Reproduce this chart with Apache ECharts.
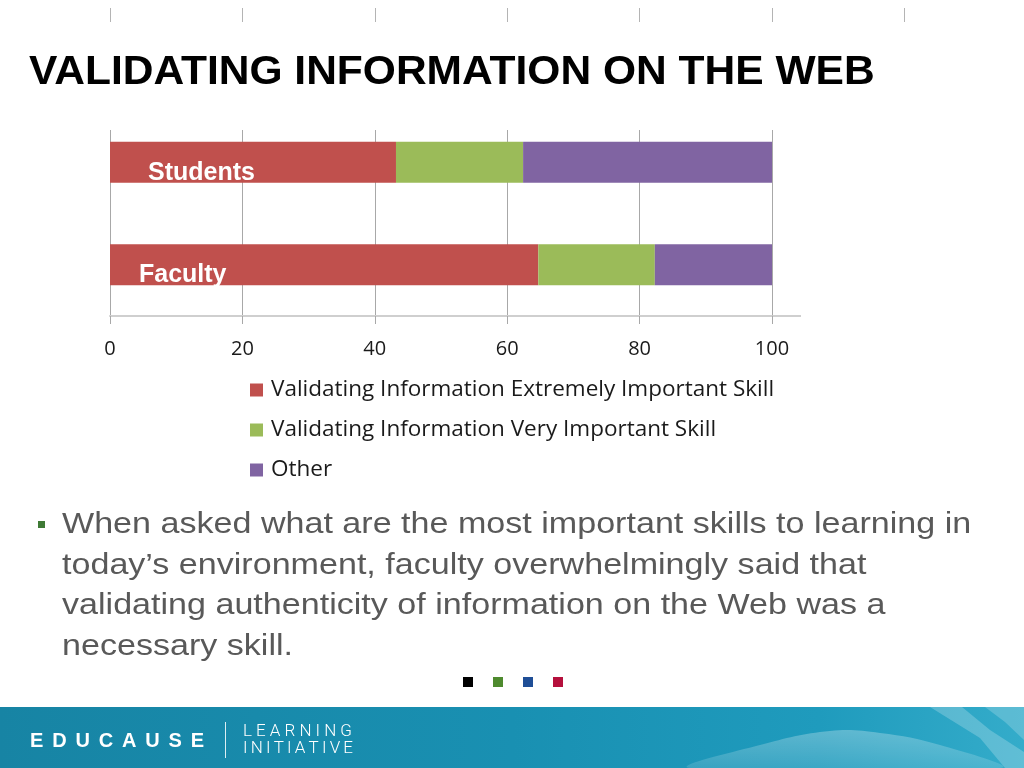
<!DOCTYPE html>
<html>
<head>
<meta charset="utf-8">
<script src="https://cdn.jsdelivr.net/npm/echarts@6/dist/echarts.min.js"></script>
<style>
html,body{margin:0;padding:0;background:#fff;}
#chart{width:1024px;height:768px;}
</style>
</head>
<body>
<div id="chart"></div>
<script>
// ---- data ----
const categories = ['Students', 'Faculty'];
const extremelyImportant = [43.2, 64.7];
const veryImportant = [19.2, 17.6];
const other = [37.6, 17.7];
const seriesNames = [
  'Validating Information Extremely Important Skill',
  'Validating Information Very Important Skill',
  'Other'
];
const xTicks = [0, 20, 40, 60, 80, 100];
const titleText = 'VALIDATING INFORMATION ON THE WEB';
const bulletLines = [
  'When asked what are the most important skills to learning in',
  'today\u2019s environment, faculty overwhelmingly said that',
  'validating authenticity of information on the Web was a',
  'necessary skill.'
];

// ---- styling ----
const colors = ['#c0504d', '#9bbb59', '#8064a2'];
const labelOffsets = [[33, 11], [24, 10]];
const ARIAL = '"Liberation Sans", Arial, sans-serif';
const CAL = '"Open Sans", Lato, sans-serif';
const chart = echarts.init(document.getElementById('chart'), null, {renderer: 'canvas'});

function spacedLetters(text, x0, totalWidth, y, font) {
  const c = document.createElement('canvas').getContext('2d');
  c.font = font.weight + ' ' + font.size + 'px ' + font.family;
  const widths = text.split('').map(ch => c.measureText(ch).width);
  const sum = widths.reduce((a, b) => a + b, 0);
  const gap = (totalWidth - sum) / (text.length - 1);
  let x = x0;
  const out = [];
  text.split('').forEach((ch, i) => {
    out.push({
      type: 'text', silent: true,
      style: {text: ch, x: x, y: y, fontSize: font.size, fontFamily: font.family,
        fontWeight: font.weight, fill: '#fff', verticalAlign: 'middle', align: 'left'}
    });
    x += widths[i] + gap;
  });
  return out;
}

const graphics = [];
// title
graphics.push({type: 'text', silent: true, x: 29, y: 73, scaleX: 1.063,
  style: {text: titleText, x: 0, y: 0, fontSize: 40, fontWeight: 'bold', fontFamily: ARIAL,
    fill: '#000', verticalAlign: 'middle', align: 'left'}});
// axis line extension
graphics.push({type: 'line', silent: true, shape: {x1: 772, y1: 316, x2: 801, y2: 316},
  style: {stroke: '#cfcfcf', lineWidth: 2}});
// bullet
graphics.push({type: 'rect', silent: true, shape: {x: 38, y: 521, width: 7, height: 7},
  style: {fill: '#3f7a35'}});
bulletLines.forEach((t, i) => {
  graphics.push({type: 'text', silent: true, x: 62, y: 525 + i * 40.6, scaleX: 1.136,
    style: {text: t, x: 0, y: 0, fontSize: 30, fontFamily: ARIAL, fill: '#595959',
      verticalAlign: 'middle', align: 'left'}});
});
// small colour squares
['#000000', '#4e8a2e', '#1f4e96', '#b5103c'].forEach((c, i) => {
  graphics.push({type: 'rect', silent: true, shape: {x: 463 + i * 30, y: 677, width: 10, height: 10},
    style: {fill: c}});
});
// footer band
graphics.push({type: 'rect', silent: true, shape: {x: 0, y: 707, width: 1024, height: 61},
  style: {fill: new echarts.graphic.LinearGradient(0, 0, 1, 0, [
    {offset: 0, color: '#1784a4'}, {offset: 0.5, color: '#1990b2'}, {offset: 0.8, color: '#1f9bbd'},
    {offset: 1, color: '#34acca'}])}});
graphics.push({type: 'polygon', silent: true,
  shape: {smooth: 0.4, points: [[690, 768], [760, 745], [830, 731], [880, 733], [940, 745], [1000, 768]]},
  style: {fill: new echarts.graphic.LinearGradient(0, 0, 0, 1, [
    {offset: 0, color: 'rgba(255,255,255,0.28)'}, {offset: 1, color: 'rgba(255,255,255,0.1)'}])}});
graphics.push({type: 'polygon', silent: true,
  shape: {points: [[930, 707], [962, 707], [990, 730], [1024, 752], [1024, 768], [1005, 768], [980, 738]]},
  style: {fill: 'rgba(255,255,255,0.22)'}});
graphics.push({type: 'polygon', silent: true,
  shape: {points: [[985, 707], [1024, 707], [1024, 740], [1005, 722]]},
  style: {fill: 'rgba(255,255,255,0.2)'}});
// logo
spacedLetters('EDUCAUSE', 30, 174, 741, {size: 20, weight: 'bold', family: ARIAL})
  .forEach(g => graphics.push(g));
graphics.push({type: 'line', silent: true, shape: {x1: 225.5, y1: 722, x2: 225.5, y2: 758},
  style: {stroke: 'rgba(255,255,255,0.85)', lineWidth: 1}});
spacedLetters('LEARNING', 243, 109, 732, {size: 17, weight: '300', family: 'Roboto, sans-serif'})
  .forEach(g => graphics.push(g));
spacedLetters('INITIATIVE', 243, 110, 749, {size: 17, weight: '300', family: 'Roboto, sans-serif'})
  .forEach(g => graphics.push(g));

const option = {
  animation: false,
  backgroundColor: '#ffffff',
  color: colors,
  legend: {
    orient: 'vertical', left: 250, top: 377, padding: 0,
    itemWidth: 13, itemHeight: 13, itemGap: 14, icon: 'rect',
    data: seriesNames,
    textStyle: {fontSize: 22.5, fontFamily: CAL, color: '#1a1a1a',
      lineHeight: 26, padding: [0, 0, 0, 3]}
  },
  grid: [
    {left: 110, right: 252, top: 111, height: 205},
    {left: 110, right: 252, top: 130, height: 186},
    {left: 110, width: 794.4, top: 8, height: 14}
  ],
  xAxis: [
    {gridIndex: 0, type: 'value', min: 0, max: 100, interval: 20,
      axisLine: {show: true, lineStyle: {color: '#cfcfcf', width: 2}},
      axisTick: {show: true, length: 8, lineStyle: {color: '#a8a8a8'}},
      splitLine: {show: false},
      axisLabel: {margin: 23, fontSize: 20, fontFamily: CAL, color: '#1a1a1a',
        formatter: v => xTicks.indexOf(v) >= 0 ? String(v) : ''}},
    {gridIndex: 1, type: 'value', min: 0, max: 100, interval: 20,
      axisLine: {show: false}, axisTick: {show: false}, axisLabel: {show: false},
      splitLine: {show: true, lineStyle: {color: '#a8a8a8', width: 1}}},
    {gridIndex: 2, type: 'value', min: 0, max: 120, interval: 20,
      axisLine: {show: false}, axisTick: {show: false}, axisLabel: {show: false},
      splitLine: {show: true, lineStyle: {color: '#b4b4b4', width: 1}}}
  ],
  yAxis: [
    {gridIndex: 0, type: 'category', data: categories, inverse: true,
      axisLine: {show: false}, axisTick: {show: false}, axisLabel: {show: false}, splitLine: {show: false}},
    {gridIndex: 1, type: 'category', data: categories, show: false},
    {gridIndex: 2, type: 'category', data: [''], show: false}
  ],
  series: [
    {name: seriesNames[0], type: 'bar', stack: 'total', barWidth: 41, xAxisIndex: 0, yAxisIndex: 0,
      itemStyle: {color: colors[0]},
      label: {show: true, position: 'insideLeft', formatter: '{b}', color: '#fff', fontSize: 25,
        fontWeight: 'bold', fontFamily: ARIAL},
      data: extremelyImportant.map((v, i) => ({value: v, label: {offset: labelOffsets[i]}}))},
    {name: seriesNames[1], type: 'bar', stack: 'total', barWidth: 41, xAxisIndex: 0, yAxisIndex: 0,
      itemStyle: {color: colors[1]}, data: veryImportant},
    {name: seriesNames[2], type: 'bar', stack: 'total', barWidth: 41, xAxisIndex: 0, yAxisIndex: 0,
      itemStyle: {color: colors[2]}, data: other}
  ],
  graphic: graphics
};
chart.setOption(option);
</script>
</body>
</html>
